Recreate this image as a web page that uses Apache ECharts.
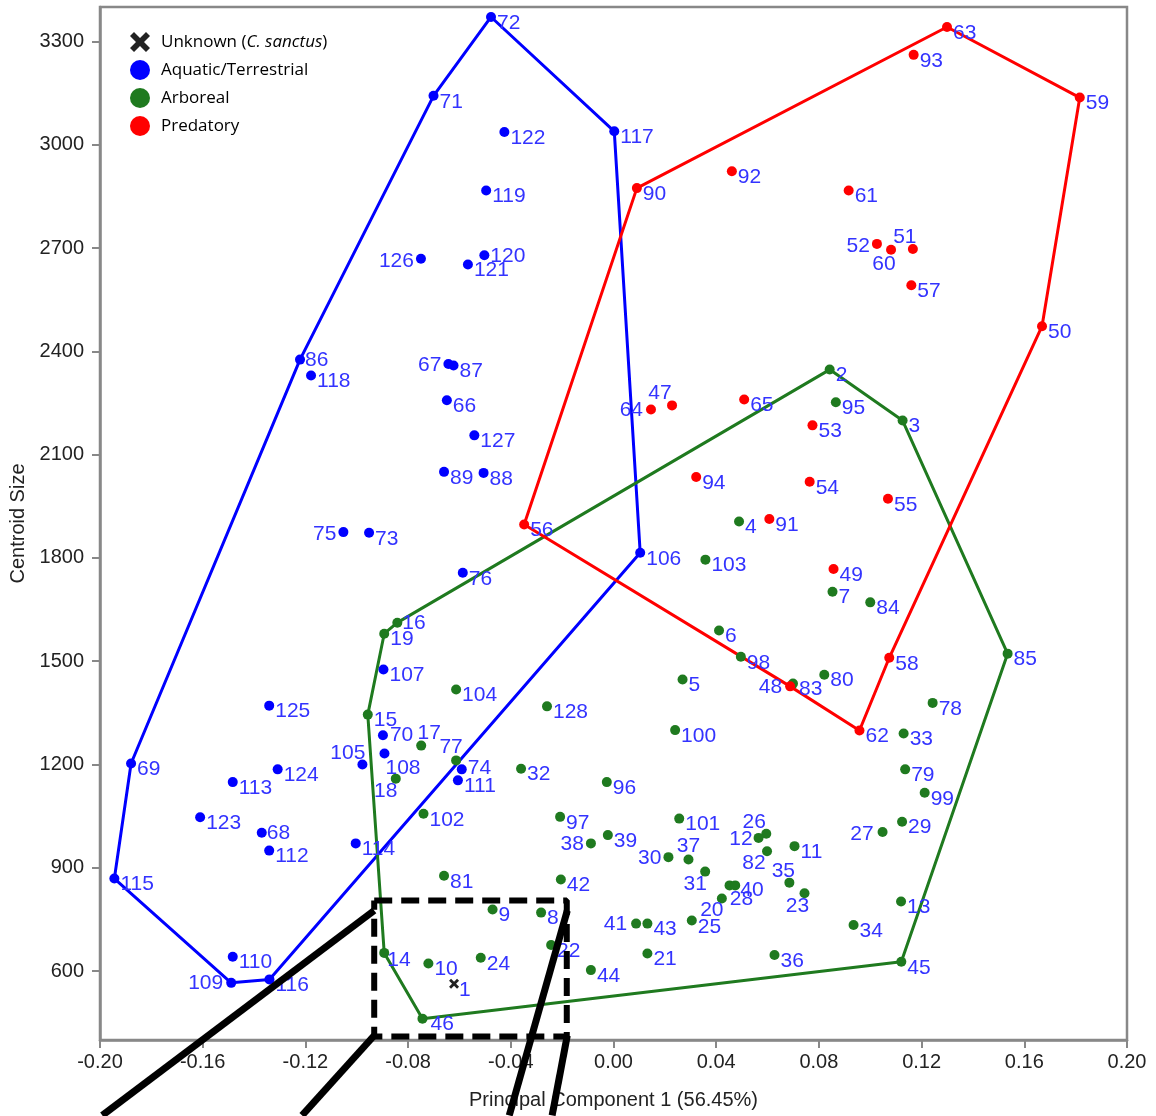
<!DOCTYPE html>
<html><head><meta charset="utf-8">
<script src="https://cdn.jsdelivr.net/npm/echarts@6/dist/echarts.min.js"></script>
<style>html,body{margin:0;padding:0;background:#fff}#c{width:1156px;height:1116px}</style>
</head><body><div id="c"></div>
<script>
// ---- data: [specimen id, PC1, centroid size] ----
const unknown = [[1,-0.0621,563]];
const aquatic = [
 [72,-0.0477,3371],[117,0.0003,3039],[106,0.0104,1815],[116,-0.1340,576],[109,-0.1489,566],
 [115,-0.1944,869],[69,-0.1879,1203],[86,-0.1221,2376],[71,-0.0701,3142],[122,-0.0425,3037],
 [119,-0.0496,2867],[120,-0.0503,2679],[121,-0.0567,2652],[126,-0.0750,2669],[67,-0.0643,2363],
 [87,-0.0623,2359],[118,-0.1178,2330],[66,-0.0649,2258],[127,-0.0542,2156],[89,-0.0660,2050],
 [88,-0.0506,2047],[75,-0.1052,1875],[73,-0.0952,1873],[76,-0.0587,1757],[107,-0.0896,1476],
 [125,-0.1341,1371],[70,-0.0898,1285],[108,-0.0892,1232],[105,-0.0978,1200],[124,-0.1308,1186],
 [113,-0.1483,1149],[74,-0.0591,1186],[111,-0.0606,1154],[123,-0.1610,1047],[68,-0.1370,1002],
 [112,-0.1341,950],[114,-0.1004,971],[110,-0.1483,642]
];
const arboreal = [
 [2,0.0842,2347],[3,0.1126,2199],[95,0.0866,2252],[85,0.1535,1522],[45,0.1121,627],
 [46,-0.0744,462],[14,-0.0893,653],[15,-0.0957,1345],[19,-0.0893,1580],[16,-0.0842,1612],
 [4,0.0489,1906],[103,0.0358,1795],[7,0.0853,1702],[84,0.1000,1671],[6,0.0411,1589],
 [98,0.0496,1513],[5,0.0269,1447],[83,0.0699,1435],[80,0.0821,1461],[104,-0.0613,1418],
 [128,-0.0259,1369],[78,0.1243,1379],[100,0.0240,1300],[33,0.1130,1290],[17,-0.0749,1255],
 [77,-0.0613,1212],[32,-0.0360,1188],[79,0.1136,1186],[18,-0.0848,1159],[96,-0.0026,1149],
 [99,0.1212,1118],[102,-0.0740,1057],[97,-0.0208,1048],[101,0.0256,1043],[29,0.1124,1034],
 [27,0.1048,1004],[26,0.0595,999],[12,0.0565,987],[39,-0.0022,995],[38,-0.0088,971],
 [11,0.0705,963],[82,0.0598,948],[30,0.0214,931],[37,0.0292,924],[31,0.0357,889],
 [81,-0.0660,877],[42,-0.0205,866],[35,0.0685,857],[28,0.0452,849],[40,0.0474,849],
 [23,0.0744,826],[20,0.0422,811],[13,0.1120,802],[9,-0.0471,779],[8,-0.0282,770],
 [25,0.0305,747],[41,0.0088,738],[43,0.0132,738],[34,0.0935,734],[22,-0.0243,676],
 [21,0.0132,651],[36,0.0627,647],[24,-0.0517,639],[10,-0.0721,622],[44,-0.0088,603]
];
const predatory = [
 [63,0.1299,3342],[93,0.1169,3261],[59,0.1816,3137],[50,0.1669,2473],[58,0.1074,1510],
 [62,0.0958,1299],[48,0.0688,1427],[56,-0.0348,1897],[90,0.0091,2874],[92,0.0461,2923],
 [61,0.0916,2867],[52,0.1026,2712],[60,0.1081,2695],[51,0.1166,2697],[57,0.1160,2592],
 [64,0.0146,2231],[47,0.0228,2243],[65,0.0509,2260],[53,0.0775,2185],[94,0.0322,2035],
 [54,0.0764,2021],[55,0.1069,1972],[91,0.0607,1913],[49,0.0857,1768]
];
// convex hull vertex order (specimen ids)
const aquaticHull = [72,117,106,116,109,115,69,86,71];
const arborealHull = [2,3,85,45,46,14,15,19,16];
const predatoryHull = [63,59,50,58,62,48,56,90];
// axis ticks
const xTicks = [-0.20,-0.16,-0.12,-0.08,-0.04,0.00,0.04,0.08,0.12,0.16,0.20];
const yTicks = [600,900,1200,1500,1800,2100,2400,2700,3000,3300];
// zoom annotation (data units; callouts run off the plot)
const zoomBox = [[-0.0932,805],[-0.0182,805],[-0.0182,410],[-0.0932,410],[-0.0932,805]];
const callouts = [
 [[-0.0932,776],[-0.1991,181]],
 [[-0.0932,413],[-0.1213,181]],
 [[-0.0180,776],[-0.0406,181]],
 [[-0.0180,413],[-0.0239,181]]
];

// ---- label placement (styling): id -> [dx, dy, align] ----
const place = {
 126:[-7,2,'right'],75:[-7,2,'right'],67:[-7,1,'right'],52:[-7,2,'right'],64:[-8,1,'right'],
 48:[-8,1,'right'],38:[-7,1,'right'],30:[-7,1,'right'],12:[-6,1,'right'],27:[-9,2,'right'],
 41:[-9,1,'right'],109:[-8,0,'right'],105:[3,-11,'right'],
 47:[-12,-12,'center'],51:[-8,-12,'center'],60:[-7,14,'center'],26:[-12,-12,'center'],
 37:[0,-13,'center'],77:[-5,-13,'center'],17:[8,-12,'center'],28:[12,14,'center'],
 82:[-13,12,'center'],31:[-10,13,'center'],20:[-10,12,'center'],35:[-6,-11,'center'],
 23:[-7,13,'center'],18:[-10,13,'center'],
 40:[5,5,'left'],25:[6,7,'left'],108:[1,15,'left'],70:[7,0,'left'],74:[6,-1,'left'],
 120:[6,1,'left'],86:[5,1,'left'],68:[5,0,'left'],16:[5,1,'left'],14:[3,7,'left'],
 46:[8,6,'left'],1:[5,6,'left']
};

const BLUE='#0000ff', GREEN='#1f7a1f', RED='#ff0000', LABEL='#3333ff';
const FONT="Liberation Sans, Arial, Helvetica, sans-serif";
const xPath='path://M2,0 L5,3 L8,0 L10,2 L7,5 L10,8 L8,10 L5,7 L2,10 L0,8 L3,5 L0,2 Z';

function pts(arr){
  return arr.map(([id,x,y])=>{
    const p = place[id] || [6,6,'left'];
    return {value:[x,y,id], label:{position:'inside', align:p[2], verticalAlign:'middle', offset:[p[0],p[1]]}};
  });
}
function hull(arr, ids){
  const m = {}; arr.forEach(d=>{m[d[0]]=[d[1],d[2]];});
  const out = ids.map(i=>m[i]); out.push(m[ids[0]]); return out;
}
const lbl = {show:true, formatter:p=>String(p.value[2]), color:LABEL, fontSize:21, fontFamily:FONT};

function scatter(name, arr, color, symbol, size){
  return {type:'scatter', name, data:pts(arr), symbol, symbolSize:size,
    itemStyle:{color, opacity:1}, label:lbl, z:3, emphasis:{disabled:true}};
}
function hullSeries(name, arr, ids, color){
  return {type:'line', name, data:hull(arr, ids), symbol:'none', silent:true,
    lineStyle:{color, width:3}, z:2};
}

const series = [
  hullSeries('hull-a', aquatic, aquaticHull, BLUE),
  hullSeries('hull-b', arboreal, arborealHull, GREEN),
  hullSeries('hull-p', predatory, predatoryHull, RED),
  scatter('Aquatic/Terrestrial', aquatic, BLUE, 'circle', 10),
  scatter('Arboreal', arboreal, GREEN, 'circle', 10),
  scatter('Predatory', predatory, RED, 'circle', 10),
  scatter('Unknown (C. sanctus)', unknown, '#222', xPath, 10),
  {type:'line', name:'zoom-box', data:zoomBox, symbol:'none', silent:true, clip:false,
   lineStyle:{color:'#000', width:6, type:[18,9]}, z:10}
].concat(callouts.map((c,i)=>({type:'line', name:'callout'+i, data:c, symbol:'none',
   silent:true, clip:false, lineStyle:{color:'#000', width:7}, z:10})));

const chart = echarts.init(document.getElementById('c'));
chart.setOption({
  animation:false,
  backgroundColor:'#fff',
  grid:{left:100, right:29, top:7, bottom:76, show:true, borderColor:'#888', borderWidth:2.5},
  legend:{
    orient:'vertical', left:130, top:32, padding:0, itemWidth:20, itemHeight:20, itemGap:8,
    selectedMode:false,
    data:[
      {name:'Unknown (C. sanctus)', icon:xPath},
      {name:'Aquatic/Terrestrial', icon:'circle'},
      {name:'Arboreal', icon:'circle'},
      {name:'Predatory', icon:'circle'}
    ],
    formatter:n=> n==='Unknown (C. sanctus)' ? '{n|Unknown (}{i|C. sanctus}{n|)}' : n,
    textStyle:{color:'#000', fontSize:17, fontFamily:"'Open Sans', sans-serif", lineHeight:20, padding:[0,0,0,6],
      rich:{n:{fontSize:17, fontFamily:"'Open Sans', sans-serif", color:'#000'},
            i:{fontSize:17, fontFamily:"'Open Sans', sans-serif", fontStyle:'italic', color:'#000'}}}
  },
  xAxis:{type:'value', min:-0.2, max:0.2,
    name:'Principal Component 1 (56.45%)', nameLocation:'middle', nameGap:50,
    nameTextStyle:{fontSize:20, fontFamily:FONT, color:'#222'},
    axisLine:{show:true, onZero:false, lineStyle:{color:'#888', width:2.5}},
    axisTick:{show:true, inside:false, length:8, customValues:xTicks, lineStyle:{color:'#888', width:2}},
    axisLabel:{customValues:xTicks, margin:12, fontSize:20, fontFamily:FONT, color:'#222',
      formatter:v=>v.toFixed(2)},
    splitLine:{show:false}},
  yAxis:{type:'value', min:400, max:3400,
    name:'Centroid Size', nameLocation:'middle', nameGap:60, nameRotate:90,
    nameTextStyle:{fontSize:20, fontFamily:FONT, color:'#222'},
    axisLine:{show:true, onZero:false, lineStyle:{color:'#888', width:2.5}},
    axisTick:{show:true, inside:false, length:8, customValues:yTicks, lineStyle:{color:'#888', width:2}},
    axisLabel:{customValues:yTicks, margin:16, fontSize:20, fontFamily:FONT, color:'#222',
      formatter:v=>String(v)},
    splitLine:{show:false}},
  series
});
</script></body></html>
